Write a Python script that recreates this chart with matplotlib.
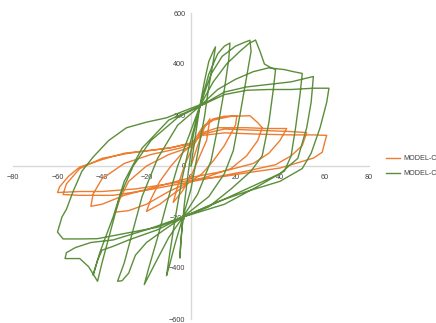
import numpy as np
import matplotlib
matplotlib.use("Agg")
import matplotlib.pyplot as plt

plt.rcParams['font.family'] = ['Liberation Sans', 'DejaVu Sans']

# displacement / load cycles, MODEL-C1 (orange)
o1_x = [0, 3, 6, 8.5, 7, 3, 0, -4, -8, -6, -3, 0]
o1_y = [0, 80, 150, 185, 100, 20, -40, -100, -143, -80, 0, 60]
o2_x = [0, 3, 6, 10, 15, 20.6, 20, 15, 10, 5, 0, -8, -14, -20, -18, -14, -9, -4, 0]
o2_y = [60, 110, 160, 185, 195, 197, 160, 80, 20, -30, -60, -110, -150, -178, -130, -60, 0, 50, 80]
o3_x = [0, 5, 10, 18, 26.5, 30, 32, 30, 25, 18, 8, 0, -10, -20, -28, -34, -32, -28, -20, -10, 0]
o3_y = [80, 150, 180, 195, 197, 170, 150, 100, 40, -10, -40, -60, -100, -150, -175, -181, -130, -60, 0, 45, 75]
o4_x = [0, 5, 12, 25, 34, 43, 40, 35, 28, 15, 0, -15, -30, -40, -45, -44, -40, -30, -18, -5, 0]
o4_y = [75, 130, 150, 150, 147, 147, 100, 50, 10, -20, -45, -80, -115, -150, -158, -110, -50, 10, 45, 70, 85]
o5_x = [0, 5, 15, 30, 45, 52, 50, 45, 38, 25, 10, -5, -20, -35, -50, -57.5, -56, -50, -40, -28, -10, 0]
o5_y = [85, 125, 145, 140, 135, 131, 80, 40, 5, -20, -45, -70, -95, -115, -115, -112, -70, -10, 30, 50, 70, 90]
o6_x = [0, 5, 15, 30, 45, 55, 61, 60, 59, 55, 40, 28, 14, 1, -10, -25, -40, -50, -60, -59, -55, -50, -40, -30, -15, -8, 0]
o6_y = [90, 120, 130, 125, 122, 122, 120, 90, 54, 31, -8, -23, -42, -54, -70, -90, -100, -100, -104, -81, -40, -4, 25, 50, 65, 73, 90]

# displacement / load cycles, MODEL-C2 (green)
g1_x = [0, 2, 4, 6, 8, 10, 11, 10, 8, 6, 3, 0, -3.6, -4.5, -5, -4.5, -3, -1, 1, 4]
g1_y = [0, 120, 235, 330, 410, 450, 467, 410, 310, 190, 50, -90, -200, -290, -360, -290, -150, -10, 120, 235]
g2_x = [4, 8, 12, 15, 17.5, 17, 15, 12, 9, 3, -3.6, -7, -10, -11, -9.5, -7, -4, -1, 2, 4]
g2_y = [235, 360, 440, 470, 482, 420, 300, 150, 20, -110, -200, -300, -400, -430, -340, -200, -50, 70, 170, 235]
g3_x = [4, 9, 14, 20, 24, 26.5, 27, 25, 22, 19, 15, 8, -3.6, -10, -16, -21, -19, -15, -11, -6, 0, 4]
g3_y = [235, 360, 430, 470, 485, 493, 450, 350, 200, 60, -30, -120, -200, -280, -380, -465, -400, -280, -150, 0, 140, 235]
g4_x = [4, 10, 16, 22, 26, 29, 31, 33, 36, 38, 37, 35, 32, 27, 18, 8, -3.6, -12, -20, -25, -28, -31, -33, -30, -26, -22, -15, -6, 4]
g4_y = [235, 330, 400, 450, 480, 494, 450, 400, 385, 378, 300, 170, 40, -20, -90, -160, -200, -250, -300, -350, -420, -450, -452, -380, -250, -120, 30, 160, 235]
g5_x = [4, 12, 20, 28, 35, 42, 46, 50, 49, 47, 45, 42, 30, 15, -3.6, -15, -28, -35, -40, -42, -44, -41, -35, -30, -22, -10, 4]
g5_y = [235, 300, 340, 370, 385, 378, 370, 363, 280, 150, 40, -20, -80, -150, -200, -250, -290, -315, -330, -370, -428, -340, -200, -60, 70, 180, 235]
g6_x = [4, 15, 25, 35, 45, 52, 55, 54, 52, 48, 40, 25, 10, -3.6, -20, -35, -45, -52, -56, -56.6, -50, -46, -42, -40, -36, -32, -26, -18, -6, 4]
g6_y = [235, 290, 310, 320, 330, 345, 351, 250, 150, 30, -30, -90, -150, -200, -250, -290, -300, -320, -340, -363, -363, -395, -452, -380, -250, -120, 0, 100, 190, 235]
g7_x = [4, 15, 25, 35, 45, 55, 62, 61, 58, 54, 50, 40, 25, 12, -3.6, -15, -30, -42, -49, -57.5, -60, -58, -56, -53, -49, -44, -37, -29, -20, -11, 4]
g7_y = [235, 280, 297, 300, 300, 305, 305, 250, 150, 50, -10, -60, -100, -140, -200, -240, -265, -285, -286, -286, -259, -200, -170, -100, -20, 35, 100, 150, 172, 189, 240]

orange_x = o1_x + o2_x + o3_x + o4_x + o5_x + o6_x
orange_y = o1_y + o2_y + o3_y + o4_y + o5_y + o6_y
green_x = g1_x + g2_x + g3_x + g4_x + g5_x + g6_x + g7_x
green_y = g1_y + g2_y + g3_y + g4_y + g5_y + g6_y + g7_y

labels = ['MODEL-C1', 'MODEL-C2']
xticks = [-80, -60, -40, -20, 0, 20, 40, 60, 80]
yticks = [-600, -400, -200, 0, 200, 400, 600]

fig = plt.figure(figsize=(4.36, 3.23), dpi=100)
ax = fig.add_axes([13/436, 4/323, 356/436, 306/323])

ax.plot(orange_x, orange_y, color='#ED7D31', lw=1.0, label=labels[0])
ax.plot(green_x, green_y, color='#5B8E3B', lw=1.0, label=labels[1])

ax.set_xlim(-80, 80)
ax.set_ylim(-600, 600)
ax.set_xticks(xticks)
ax.set_yticks(yticks)

for side in ['top', 'right']:
    ax.spines[side].set_visible(False)
ax.spines['left'].set_position(('data', 0))
ax.spines['bottom'].set_position(('data', 0))
for side in ['left', 'bottom']:
    ax.spines[side].set_color('#d9d9d9')
    ax.spines[side].set_linewidth(1.0)
    ax.spines[side].set_zorder(0)

ax.tick_params(axis='both', length=0, labelsize=5.2, labelcolor='#404040')
ax.tick_params(axis='x', pad=6)
ax.tick_params(axis='y', pad=4)
ax.patch.set_alpha(0)

ax.legend(loc='center left', bbox_to_anchor=(386/436, 1 - 166/323),
          bbox_transform=fig.transFigure, frameon=False, fontsize=5.2,
          handlelength=2.0, handletextpad=0.4, labelspacing=1.1,
          borderaxespad=0, borderpad=0, labelcolor='#404040')

fig.savefig('out.png', dpi=100)
